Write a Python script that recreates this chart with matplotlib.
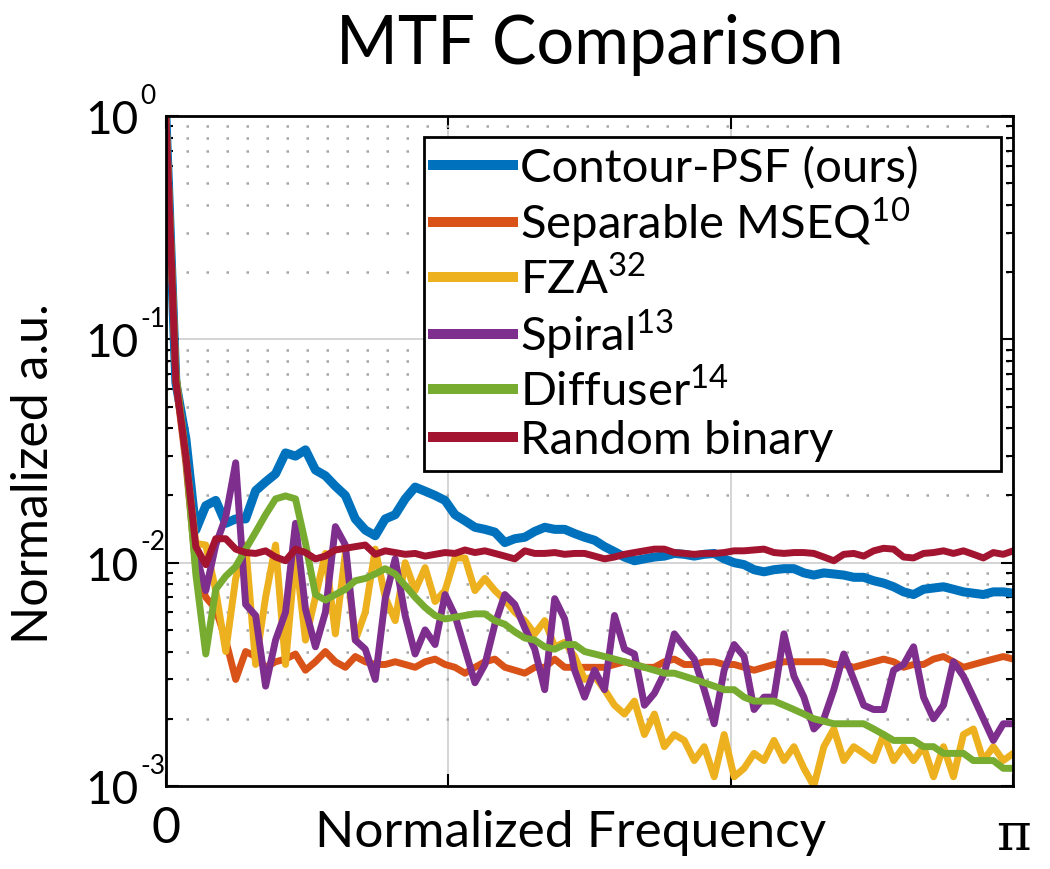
import numpy as np
import matplotlib
matplotlib.use('Agg')
import matplotlib.pyplot as plt
import matplotlib.transforms as mtransforms
from matplotlib.ticker import LogLocator, NullFormatter, FixedLocator

plt.rcParams['font.family'] = ['Lato', 'DejaVu Sans']
plt.rcParams['mathtext.fontset'] = 'custom'
plt.rcParams['mathtext.rm'] = 'Lato'

# MTF curves, evenly spaced from 0 to pi
contour = [1.0, 0.064, 0.036, 0.014, 0.018, 0.019, 0.015, 0.0157, 0.0157, 0.021,
           0.023, 0.025, 0.031, 0.030, 0.032, 0.026, 0.0245, 0.022, 0.020, 0.0157,
           0.014, 0.0132, 0.0157, 0.0164, 0.0193, 0.0218, 0.0209, 0.020, 0.019, 0.0164,
           0.0154, 0.0144, 0.0141, 0.0137, 0.0123, 0.0128, 0.0130, 0.0138, 0.0144, 0.0141,
           0.0141, 0.0135, 0.0130, 0.0126, 0.0118, 0.0112, 0.0106, 0.0102, 0.0104, 0.0106,
           0.0107, 0.0110, 0.0109, 0.0107, 0.0109, 0.0110, 0.0104, 0.0100, 0.0098, 0.0093,
           0.0091, 0.0093, 0.0094, 0.0094, 0.0090, 0.0088, 0.0090, 0.0089, 0.0088, 0.0086,
           0.0086, 0.0083, 0.0081, 0.0078, 0.0074, 0.0072, 0.0076, 0.0077, 0.0078, 0.0076,
           0.0074, 0.0073, 0.0072, 0.0074, 0.0074, 0.0073]
separable = [1.0, 0.065, 0.028, 0.0095, 0.0070, 0.0062, 0.0045, 0.0030, 0.0040, 0.0038,
             0.0034, 0.0036, 0.0037, 0.0039, 0.0033, 0.0036, 0.0040, 0.0036, 0.0034, 0.0038,
             0.0036, 0.0035, 0.0035, 0.0036, 0.0035, 0.0034, 0.0036, 0.0037, 0.0035, 0.0034,
             0.0032, 0.0034, 0.0036, 0.0037, 0.0034, 0.0033, 0.0032, 0.0034, 0.0034, 0.0037,
             0.0034, 0.0034, 0.0034, 0.0034, 0.0034, 0.0035, 0.0036, 0.0035, 0.0034, 0.0034,
             0.0036, 0.0037, 0.0035, 0.0035, 0.0036, 0.0036, 0.0035, 0.0035, 0.0034, 0.0033,
             0.0034, 0.0035, 0.0036, 0.0036, 0.0036, 0.0036, 0.0036, 0.0035, 0.0035, 0.0034,
             0.0035, 0.0036, 0.0037, 0.0036, 0.0034, 0.0035, 0.0035, 0.0037, 0.0038, 0.0036,
             0.0034, 0.0035, 0.0036, 0.0037, 0.0038, 0.0037]
fza = [1.0, 0.07, 0.03, 0.0122, 0.012, 0.0075, 0.004, 0.0085, 0.012, 0.0035,
       0.007, 0.012, 0.0035, 0.011, 0.0045, 0.007, 0.011, 0.0048, 0.011, 0.0045,
       0.006, 0.0115, 0.007, 0.0055, 0.010, 0.0075, 0.0095, 0.0067, 0.0075, 0.0105,
       0.0105, 0.0075, 0.0085, 0.0075, 0.0068, 0.0060, 0.0055, 0.0048, 0.0055, 0.0042,
       0.0044, 0.0038, 0.0030, 0.0031, 0.0027, 0.0023, 0.0021, 0.0024, 0.0017, 0.0021,
       0.0015, 0.0017, 0.0016, 0.0013, 0.0015, 0.0011, 0.0017, 0.0011, 0.0012, 0.0014,
       0.0013, 0.0016, 0.0013, 0.0015, 0.0012, 0.0010, 0.0015, 0.0018, 0.0013, 0.0015,
       0.0014, 0.0013, 0.0017, 0.0013, 0.0015, 0.0013, 0.0015, 0.0011, 0.0015, 0.0011,
       0.0017, 0.0018, 0.0013, 0.0015, 0.0013, 0.0014]
spiral = [1.0, 0.07, 0.03, 0.011, 0.0075, 0.012, 0.016, 0.028, 0.0065, 0.0058,
          0.0028, 0.0045, 0.006, 0.015, 0.0062, 0.0042, 0.006, 0.0145, 0.012, 0.0045,
          0.0041, 0.0030, 0.0069, 0.0104, 0.0058, 0.0039, 0.0050, 0.0043, 0.0072, 0.0058,
          0.0041, 0.0029, 0.0035, 0.0053, 0.0072, 0.0065, 0.0051, 0.0041, 0.0027, 0.0069,
          0.0056, 0.0033, 0.0025, 0.0033, 0.0027, 0.0058, 0.0041, 0.0039, 0.0023, 0.0026,
          0.0032, 0.0048, 0.0042, 0.0037, 0.0027, 0.0019, 0.0033, 0.0043, 0.0038, 0.0022,
          0.0025, 0.0025, 0.0048, 0.0031, 0.0025, 0.0018, 0.0020, 0.0027, 0.0039, 0.0030,
          0.0023, 0.0022, 0.0022, 0.0033, 0.0035, 0.0042, 0.0025, 0.0020, 0.0023, 0.0036,
          0.0031, 0.0025, 0.0020, 0.0016, 0.0019, 0.0019]
diffuser = [1.0, 0.07, 0.03, 0.0089, 0.0039, 0.0076, 0.0087, 0.0096, 0.0115, 0.0137,
            0.0164, 0.0193, 0.0199, 0.0193, 0.0122, 0.0072, 0.0068, 0.0072, 0.0076, 0.0083,
            0.0085, 0.0089, 0.0094, 0.0089, 0.0079, 0.0070, 0.0063, 0.0058, 0.0056, 0.0057,
            0.0058, 0.0059, 0.0059, 0.0055, 0.0053, 0.0049, 0.0046, 0.0045, 0.0042, 0.0041,
            0.0043, 0.0043, 0.0040, 0.0039, 0.0038, 0.0037, 0.0036, 0.0035, 0.0034, 0.0033,
            0.0032, 0.0032, 0.0031, 0.0030, 0.0029, 0.0028, 0.0027, 0.0027, 0.0025, 0.0024,
            0.0024, 0.0024, 0.0023, 0.0022, 0.0021, 0.0020, 0.00195, 0.0019, 0.0019, 0.0019,
            0.0019, 0.0018, 0.0017, 0.0016, 0.0016, 0.0016, 0.0015, 0.0015, 0.0014, 0.0014,
            0.0014, 0.0013, 0.0013, 0.0013, 0.0012, 0.0012]
random_bin = [1.0, 0.065, 0.030, 0.0118, 0.0098, 0.0128, 0.0128, 0.0115, 0.0111, 0.0110,
              0.0113, 0.0106, 0.0102, 0.0115, 0.0111, 0.0104, 0.0107, 0.0114, 0.0116, 0.0118,
              0.0120, 0.0109, 0.0113, 0.0111, 0.0109, 0.0110, 0.0107, 0.0109, 0.0111, 0.0110,
              0.0114, 0.0111, 0.0113, 0.0110, 0.0107, 0.0104, 0.0113, 0.0110, 0.0110, 0.0111,
              0.0109, 0.0110, 0.0110, 0.0107, 0.0104, 0.0106, 0.0109, 0.0111, 0.0113, 0.0115,
              0.0115, 0.0111, 0.0110, 0.0109, 0.0110, 0.0110, 0.0111, 0.0113, 0.0113, 0.0114,
              0.0115, 0.0111, 0.0110, 0.0111, 0.0111, 0.0110, 0.0106, 0.0102, 0.0109, 0.0110,
              0.0107, 0.0113, 0.0116, 0.0115, 0.0106, 0.0105, 0.0110, 0.0111, 0.0113, 0.0110,
              0.0113, 0.0109, 0.0105, 0.0111, 0.0109, 0.0113]

labels = ['Contour-PSF (ours)      ', r'Separable MSEQ$^{\mathdefault{10}}$', r'FZA$^{\mathdefault{32}}$',
          r'Spiral$^{\mathdefault{13}}$', r'Diffuser$^{\mathdefault{14}}$', 'Random binary']
series = [contour, separable, fza, spiral, diffuser, random_bin]
colors = ['#0072BD', '#D95319', '#EDB120', '#7E2F8E', '#77AC30', '#A2142F']
widths = [6.5, 5, 5, 5, 5, 5]

ytick_vals = [1e-3, 1e-2, 1e-1, 1e0]
ytick_exps = ['-3', '-2', '-1', '0']

fig = plt.figure(figsize=(10.5, 8.7), dpi=100)
ax = fig.add_axes([0.158, 0.0954, 0.807, 0.7701])

for vals, lab, c, w in zip(series, labels, colors, widths):
    freq = np.linspace(0, np.pi, len(vals))
    ax.plot(freq, vals, color=c, lw=w, label=lab, solid_joinstyle='round')

ax.set_yscale('log')
ax.set_xlim(0, np.pi)
ax.set_ylim(1e-3, 1)
ax.set_xticks([0, np.pi/3, 2*np.pi/3, np.pi])
ax.set_xticklabels(['0', '', '', ''])
ax.text(np.pi, -0.035, 'π', transform=ax.get_xaxis_transform(), ha='center', va='top',
        fontsize=38, family='DejaVu Serif')

# decade labels: "10" as tick label, small exponent beside it
ax.yaxis.set_major_locator(FixedLocator(ytick_vals))
ax.set_yticklabels(['10'] * len(ytick_vals))
ax.yaxis.set_minor_locator(LogLocator(base=10, subs=np.arange(2, 10), numticks=20))
ax.yaxis.set_minor_formatter(NullFormatter())
lift = mtransforms.ScaledTranslation(0, 5 / 72, fig.dpi_scale_trans)
for lbl in ax.get_yticklabels():
    lbl.set_transform(lbl.get_transform() + lift)
exp_tr = mtransforms.offset_copy(ax.get_yaxis_transform(), fig=fig, x=-18.5, y=15, units='points')
for v, e in zip(ytick_vals, ytick_exps):
    ax.text(0, v, e, transform=exp_tr, ha='left', va='center', fontsize=19)

ax.tick_params(which='both', direction='in', top=True, right=True, width=1.5)
ax.tick_params(which='major', length=9)
ax.tick_params(which='minor', length=5)
ax.tick_params(axis='x', pad=14, labelsize=36)
ax.tick_params(axis='y', pad=20, labelsize=33)

ax.set_axisbelow(True)
ax.grid(which='major', color='#d4d4d4', lw=1.4, ls='-')
ax.grid(which='minor', axis='y', color='#a6a6a6', lw=1.8, ls=(0, (1, 7)))
for sp in ax.spines.values():
    sp.set_linewidth(2)

ax.set_title('MTF Comparison', fontsize=48, pad=38)
ax.set_xlabel('Normalized Frequency', fontsize=37)
ax.xaxis.set_label_coords(0.477, -0.035)
ax.set_ylabel('Normalized a.u.', fontsize=36)
ax.yaxis.set_label_coords(-0.129, 0.467)

leg = ax.legend(loc='upper right', bbox_to_anchor=(0.985, 0.969), fontsize=34,
                handlelength=1.68, handletextpad=0.15, labelspacing=0.12,
                borderpad=0.2, borderaxespad=0, framealpha=1, fancybox=False)
leg.get_frame().set_edgecolor('black')
leg.get_frame().set_linewidth(2)
for ln in leg.get_lines():
    ln.set_linewidth(7.2)

fig.savefig('out.png', dpi=100)
